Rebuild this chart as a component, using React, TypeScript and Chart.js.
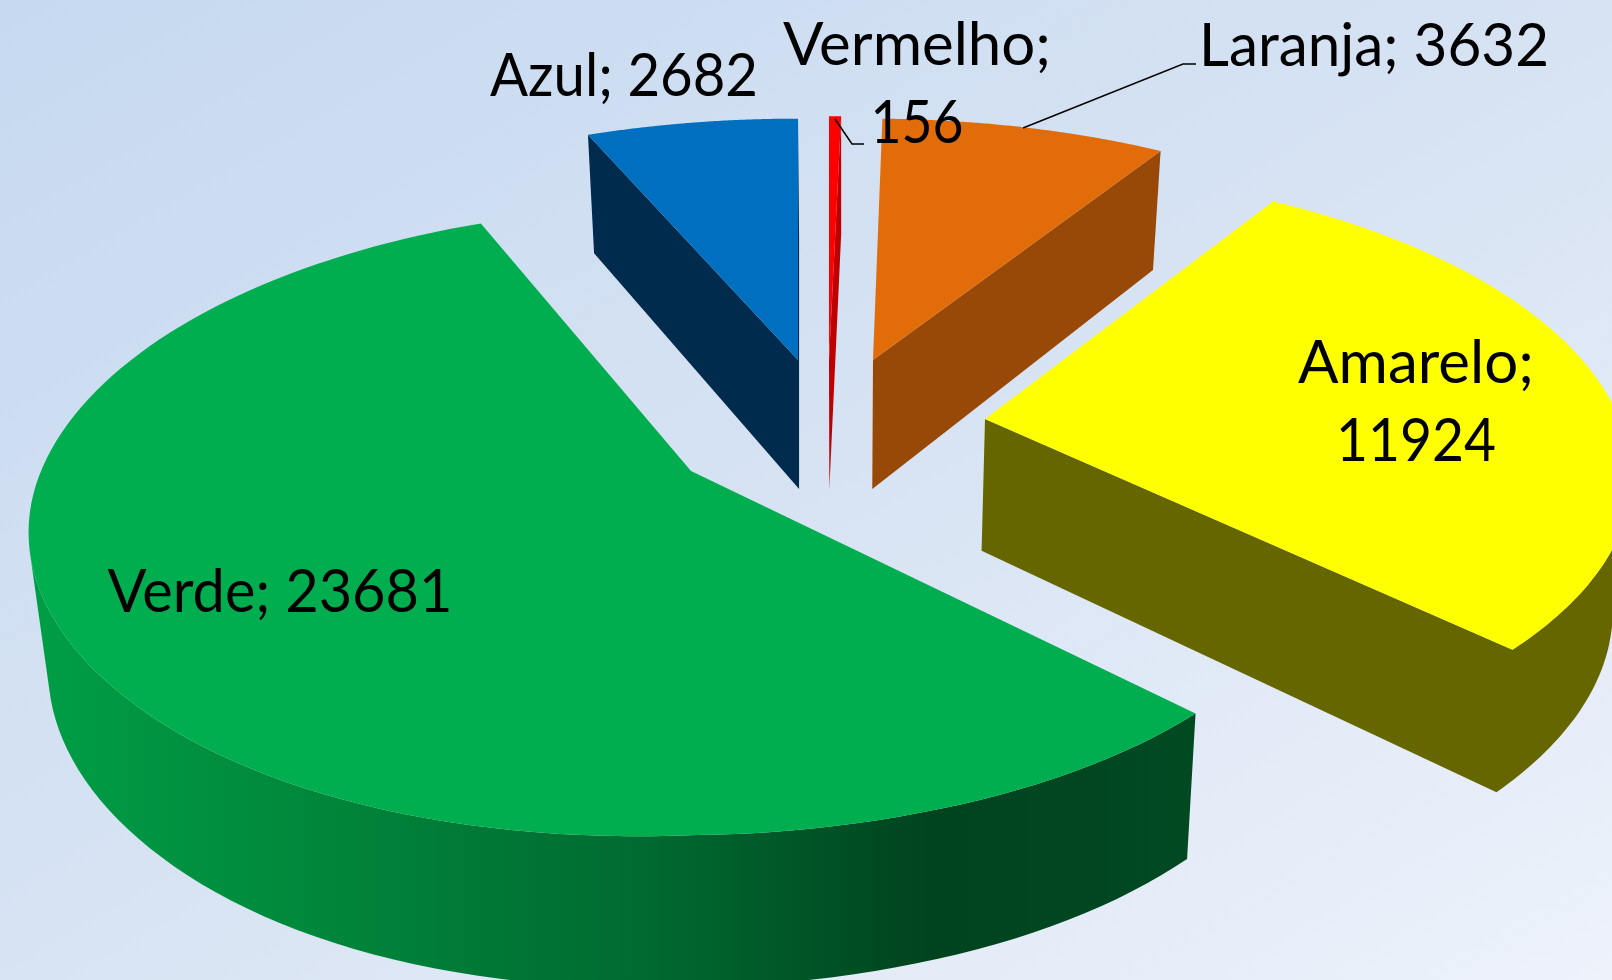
import React, { useEffect, useRef } from "react";
import { Chart, registerables } from "chart.js";

Chart.register(...registerables);

const categories = ["Vermelho", "Laranja", "Amarelo", "Verde", "Azul"];
const values = [156, 3632, 11924, 23681, 2682];
const sliceColors = ["#ff0000", "#e26b0a", "#ffff00", "#00ae4f", "#006fc0"];
const wallColors = ["#c00000", "#984807", "#666600", "", "#002b4d"];

// Layout of the exploded 3D projection (apex of every slice on screen)
const apexes = [
  [829, 360],
  [873, 360],
  [985, 419],
  [691, 471],
  [798, 360],
];
const shapes = [
  { mx: 1, my: 0.995, myLow: 0.995, rot: 0, shear: 0, bulge: false },
  { mx: 1.012, my: 0.985, myLow: 0.985, rot: 0, shear: 0.012, bulge: false },
  { mx: 1.02, my: 1.02, myLow: 0.985, rot: -0.5, shear: 0, bulge: false },
  { mx: 1, my: 1, myLow: 1, rot: 1.2, shear: 0, bulge: true },
  { mx: 1.02, my: 0.985, myLow: 0.985, rot: 0, shear: 0, bulge: false },
];
const labelLayout = [
  { x: 917, y: 65, lines: true, w1: 268, w2: 93 },
  { x: 1374, y: 66, lines: false, w1: 350, w2: 0 },
  { x: 1416, y: 383, lines: true, w1: 236, w2: 160 },
  { x: 280, y: 612, lines: false, w1: 345, w2: 0 },
  { x: 624, y: 96, lines: false, w1: 268, w2: 0 },
];
const LINE_GAP = 78;
const FONT = '60px Lato, "Open Sans", sans-serif';

const PERSP = 0.193;
const TILT = 0.47;
const RADIUS_FACTOR = 622 / 490;

function bulgeAt(u: number, v: number) {
  if (u >= 0) return 1 + 0.005 * Math.max(0, 1 - u / 0.3);
  if (v >= 0) return 1.005 + 0.04 * Math.sin((Math.min(-u / 0.7, 1) * Math.PI) / 2);
  return 1.045 + 0.035 * v * v;
}

function project(ax: number, ay: number, R: number, angle: number, sh: (typeof shapes)[number]) {
  const theta = angle + (sh.rot * Math.PI) / 180;
  const u = Math.cos(theta);
  const v = Math.sin(theta);
  const s = 1 / (1 - PERSP * v);
  const m = sh.bulge ? bulgeAt(u, v) : 1;
  const dy = R * m * (v > 0 ? sh.myLow : sh.my) * TILT * v * s;
  const dx = R * m * sh.mx * u * s + sh.shear * dy;
  return [ax + dx, ay + dy];
}
function lower(p: number[]) {
  return [p[0] - 0.024 * (p[0] - 843), p[1] + 112 + 0.047 * p[1]];
}
function area(q: number[][]) {
  let a = 0;
  q.forEach((p, i) => {
    const r = q[(i + 1) % q.length];
    a += p[0] * r[1] - r[0] * p[1];
  });
  return a;
}

const pie3d = {
  id: "pie3d",
  beforeDatasetDraw(chart: any) {
    const ctx: CanvasRenderingContext2D = chart.ctx;
    const arcs = chart.getDatasetMeta(0).data;
    const green = ctx.createLinearGradient(29, 0, 1200, 0);
    green.addColorStop(0, "#009e46");
    green.addColorStop(0.24, "#00873b");
    green.addColorStop(0.53, "#006a30");
    green.addColorStop(0.77, "#00431f");
    green.addColorStop(1, "#004a22");
    arcs.forEach((arc: any, i: number) => {
      const [ax, ay] = apexes[i];
      const R = arc.outerRadius * RADIUS_FACTOR;
      const rim: number[][] = [];
      const n = 120;
      for (let k = 0; k <= n; k++) {
        rim.push(project(ax, ay, R, arc.startAngle + ((arc.endAngle - arc.startAngle) * k) / n, shapes[i]));
      }
      const outline = [[ax, ay], ...rim];
      // walls: one quad per outline edge, only those facing the viewer, filled as one path
      ctx.beginPath();
      outline.forEach((a, k) => {
        const b = outline[(k + 1) % outline.length];
        const q = [a, b, lower(b), lower(a)];
        if (area(q) < 0) {
          q.forEach((p, j) => (j ? ctx.lineTo(p[0], p[1]) : ctx.moveTo(p[0], p[1])));
          ctx.closePath();
        }
      });
      ctx.fillStyle = wallColors[i] || green;
      ctx.fill("nonzero");
      // top face
      ctx.beginPath();
      outline.forEach((p, j) => (j ? ctx.lineTo(p[0], p[1]) : ctx.moveTo(p[0], p[1])));
      ctx.closePath();
      ctx.fillStyle = arc.options.backgroundColor;
      ctx.fill();
    });
    return false;
  },
  afterDatasetsDraw(chart: any) {
    const ctx: CanvasRenderingContext2D = chart.ctx;
    ctx.save();
    ctx.strokeStyle = "#000";
    ctx.lineWidth = 1.5;
    ctx.beginPath();
    ctx.moveTo(1023, 128);
    ctx.lineTo(1183, 64);
    ctx.lineTo(1196, 64);
    ctx.moveTo(835, 119);
    ctx.lineTo(852, 144);
    ctx.lineTo(864, 144);
    ctx.stroke();
    ctx.fillStyle = "#000";
    ctx.font = FONT;
    ctx.textAlign = "center";
    ctx.textBaseline = "alphabetic";
    categories.forEach((c, i) => {
      const l = labelLayout[i];
      if (l.lines) {
        ctx.fillText(`${c};`, l.x, l.y, l.w1);
        ctx.fillText(String(values[i]), l.x, l.y + LINE_GAP, l.w2);
      } else {
        ctx.fillText(`${c}; ${values[i]}`, l.x, l.y, l.w1);
      }
    });
    ctx.restore();
  },
};

export default function App() {
  const ref = useRef<HTMLCanvasElement>(null);
  useEffect(() => {
    const chart = new Chart(ref.current!, {
      type: "pie",
      data: {
        labels: categories,
        datasets: [{ data: values, backgroundColor: sliceColors, borderWidth: 0 }],
      },
      options: {
        animation: false,
        responsive: false,
        layout: { padding: 0 },
        plugins: { legend: { display: false }, tooltip: { enabled: false } },
      },
      plugins: [pie3d],
    } as any);
    return () => chart.destroy();
  }, []);
  return (
    <div
      style={{
        position: "fixed",
        inset: 0,
        overflow: "hidden",
        background: "linear-gradient(150deg, #c6d9f0 0%, #d7e3f3 50%, #edf2fb 100%)",
      }}
    >
      <canvas ref={ref} width={1612} height={980} style={{ display: "block" }} />
    </div>
  );
}
